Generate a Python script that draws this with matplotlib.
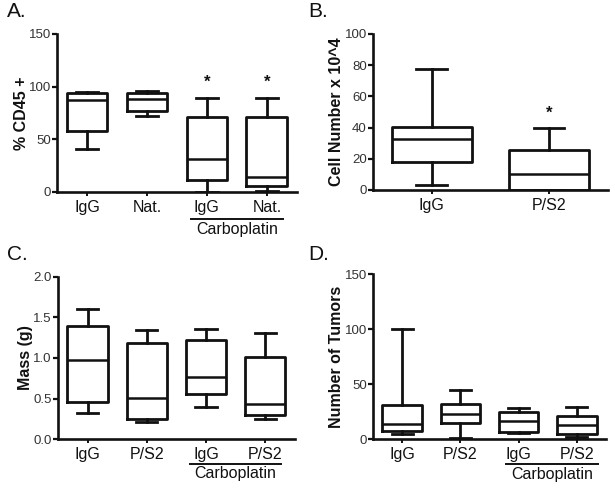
import matplotlib
matplotlib.use('Agg')
import matplotlib.pyplot as plt

plt.rcParams['font.family'] = ['Liberation Sans', 'DejaVu Sans']

# panel A: % CD45+   (whisker low, q1, median, q3, whisker high)
a_labels = ["IgG", "Nat.", "IgG", "Nat."]
a_low = [40.5, 72.5, 0.0, 1.0]
a_q1 = [57.5, 77.0, 11.0, 5.7]
a_med = [87.7, 88.0, 31.0, 14.5]
a_q3 = [94.0, 94.0, 71.5, 71.5]
a_high = [95.0, 96.0, 89.5, 89.5]
a_stars = [None, None, 104, 104]

# panel B: cell number x 10^4
b_labels = ["IgG", "P/S2"]
b_low = [3.0, 0.0]
b_q1 = [18.2, 0.0]
b_med = [32.5, 10.3]
b_q3 = [40.6, 25.6]
b_high = [77.8, 40.0]
b_stars = [None, 49]

# panel C: mass (g)
c_labels = ["IgG", "P/S2", "IgG", "P/S2"]
c_low = [0.32, 0.21, 0.40, 0.25]
c_q1 = [0.46, 0.25, 0.55, 0.30]
c_med = [0.97, 0.51, 0.77, 0.43]
c_q3 = [1.40, 1.18, 1.22, 1.01]
c_high = [1.60, 1.35, 1.36, 1.31]

# panel D: number of tumors
d_labels = ["IgG", "P/S2", "IgG", "P/S2"]
d_low = [4.3, 1.2, 5.8, 1.5]
d_q1 = [7.0, 15.0, 6.7, 4.3]
d_med = [14.0, 23.0, 16.0, 13.0]
d_q3 = [30.7, 31.6, 24.6, 21.0]
d_high = [99.6, 44.6, 28.0, 29.0]

LW = 2.0
INK = '#111111'


def make_stats(low, q1, med, q3, high):
    out = []
    for i in range(len(med)):
        out.append(dict(whislo=low[i], q1=q1[i], med=med[i], q3=q3[i], whishi=high[i], fliers=[]))
    return out


def draw_panel(rect, letter, letter_xy, stats, labels, ylim, yticks, yticklabels, ylabel, capw,
               stars=None, carbo=None):
    ax = fig.add_axes(rect)
    n = len(labels)
    ax.bxp(stats, positions=range(n), widths=0.68, capwidths=capw, showfliers=False,
           boxprops=dict(color=INK, linewidth=LW),
           medianprops=dict(color=INK, linewidth=LW * 0.9),
           whiskerprops=dict(color=INK, linewidth=LW),
           capprops=dict(color=INK, linewidth=LW))
    ax.set_xlim(-0.5, n - 0.5)
    ax.set_ylim(*ylim)
    ax.set_yticks(yticks)
    ax.set_yticklabels(yticklabels)
    ax.set_xticks(range(n))
    ax.set_xticklabels(labels, fontsize=11.5, color=INK)
    for s in ['top', 'right']:
        ax.spines[s].set_visible(False)
    for s in ['left', 'bottom']:
        ax.spines[s].set_linewidth(1.9)
        ax.spines[s].set_color(INK)
    ax.tick_params(axis='y', direction='out', length=3.5, width=1.6, labelsize=9.5, colors=INK, pad=1)
    ax.tick_params(axis='x', direction='out', length=3, width=1.4, colors=INK, pad=2.5)
    for lab in ax.get_yticklabels():
        lab.set_color('#333333')
    ax.set_ylabel(ylabel, fontsize=11.5, fontweight='bold', color=INK, labelpad=0)
    if stars:
        for i, s in enumerate(stars):
            if s is not None:
                ax.text(i, s, '*', ha='center', va='center', fontsize=12, fontweight='bold', color=INK)
    if carbo:
        x0, x1, yl, yt = carbo
        tr = ax.get_xaxis_transform()
        ax.plot([x0, x1], [yl, yl], color=INK, linewidth=1.4, transform=tr, clip_on=False)
        ax.text((x0 + x1) / 2, yt, 'Carboplatin', transform=tr, ha='center', va='center',
                fontsize=11.5, color=INK)
    fig.text(letter_xy[0], letter_xy[1], letter, fontsize=15, va='center', color=INK)
    return ax


fig = plt.figure(figsize=(6.15, 4.88), dpi=100)

draw_panel([0.0927, 0.6066, 0.390, 0.3238], 'A.', (0.0107, 0.977),
           make_stats(a_low, a_q1, a_med, a_q3, a_high),
           a_labels, (0, 150), [0, 50, 100, 150], ['0', '50', '100', '150'], '% CD45 +', 0.37,
           stars=a_stars, carbo=(1.73, 3.27, -0.17, -0.235))

draw_panel([0.6065, 0.6107, 0.382, 0.3197], 'B.', (0.5005, 0.977),
           make_stats(b_low, b_q1, b_med, b_q3, b_high),
           b_labels, (0, 100), [0, 20, 40, 60, 80, 100], ['0', '20', '40', '60', '80', '100'],
           'Cell Number x 10^4', 0.26, stars=b_stars)

draw_panel([0.0943, 0.1004, 0.385, 0.332], 'C.', (0.0107, 0.479),
           make_stats(c_low, c_q1, c_med, c_q3, c_high),
           c_labels, (0, 2.0), [0, 0.5, 1.0, 1.5, 2.0], ['0.0', '0.5', '1.0', '1.5', '2.0'],
           'Mass (g)', 0.36, carbo=(1.73, 3.27, -0.157, -0.212))

draw_panel([0.6065, 0.1004, 0.379, 0.338], 'D.', (0.5005, 0.479),
           make_stats(d_low, d_q1, d_med, d_q3, d_high),
           d_labels, (0, 150), [0, 50, 100, 150], ['0', '50', '100', '150'],
           'Number of Tumors', 0.36, carbo=(1.78, 3.36, -0.154, -0.216))

fig.savefig('out.png', dpi=100)
